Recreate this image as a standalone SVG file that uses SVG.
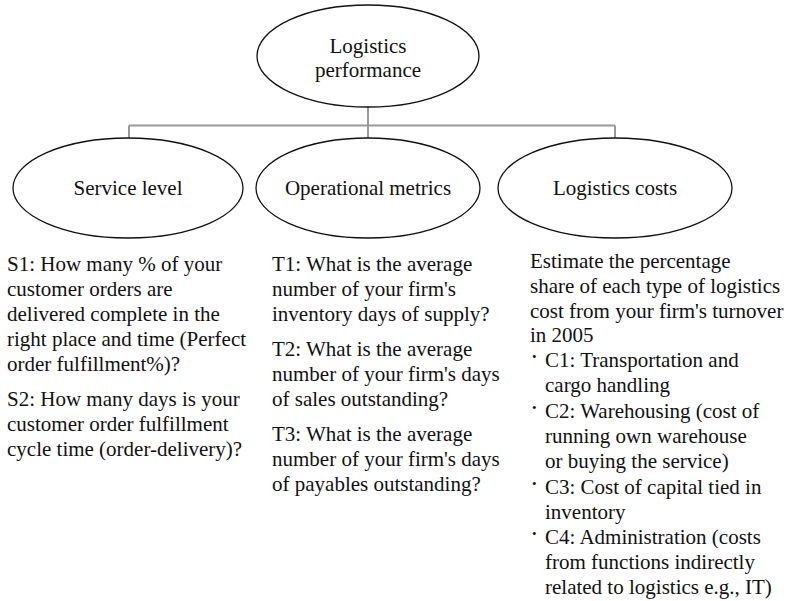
<svg xmlns="http://www.w3.org/2000/svg" width="789" height="601" viewBox="0 0 789 601">
  <style>
    .node ellipse { fill: #ffffff; stroke: #111111; stroke-width: 1.3; }
    .lbl { font-family: "Liberation Serif", "Times New Roman", serif; font-size: 21px; fill: #111111; }
    .mid { text-anchor: middle; }
    .conn { fill: none; stroke: #9a9a9a; stroke-width: 2; }
    .bul { font-family: "Liberation Serif", "Times New Roman", serif; font-size: 13px; fill: #111111; }
  </style>
  <rect width="789" height="601" fill="#ffffff"/>

  <!-- tree connectors -->
  <g id="connectors">
    <path class="conn" d="M368 107 V125.5"/>
    <path class="conn" d="M129 125.5 H615"/>
    <path class="conn" d="M129 125.5 V138"/>
    <path class="conn" d="M368 125.5 V138"/>
    <path class="conn" d="M615 125.5 V138"/>
  </g>

  <g id="root" class="node">
    <ellipse cx="368" cy="56" rx="111" ry="51"/>
    <text class="lbl mid" x="368" y="53">Logistics</text>
    <text class="lbl mid" x="368" y="77">performance</text>
  </g>

  <g id="service" class="node">
    <ellipse cx="128" cy="188" rx="115" ry="50"/>
    <text class="lbl mid" x="128" y="195">Service level</text>
  </g>

  <g id="operational" class="node">
    <ellipse cx="368" cy="188" rx="112" ry="50"/>
    <text class="lbl mid" x="368" y="195">Operational metrics</text>
  </g>

  <g id="costs" class="node">
    <ellipse cx="615" cy="188" rx="117" ry="50"/>
    <text class="lbl mid" x="615" y="195">Logistics costs</text>
  </g>

  <!-- service level questions -->
  <g id="service-text" class="lbl">
    <text x="7" y="271">S1: How many % of your</text>
    <text x="7" y="296">customer orders are</text>
    <text x="7" y="321">delivered complete in the</text>
    <text x="7" y="346">right place and time (Perfect</text>
    <text x="7" y="371">order fulfillment%)?</text>
    <text x="7" y="406">S2: How many days is your</text>
    <text x="7" y="431">customer order fulfillment</text>
    <text x="7" y="456">cycle time (order-delivery)?</text>
  </g>

  <!-- operational metrics questions -->
  <g id="operational-text" class="lbl">
    <text x="272" y="271">T1: What is the average</text>
    <text x="272" y="296">number of your firm's</text>
    <text x="272" y="321">inventory days of supply?</text>
    <text x="272" y="356">T2: What is the average</text>
    <text x="272" y="381">number of your firm's days</text>
    <text x="272" y="406">of sales outstanding?</text>
    <text x="272" y="441">T3: What is the average</text>
    <text x="272" y="466">number of your firm's days</text>
    <text x="272" y="491">of payables outstanding?</text>
  </g>

  <!-- logistics cost items -->
  <g id="costs-text" class="lbl">
    <text x="530" y="268">Estimate the percentage</text>
    <text x="530" y="293">share of each type of logistics</text>
    <text x="530" y="318">cost from your firm's turnover</text>
    <text x="530" y="342">in 2005</text>
    <text x="545" y="367">C1: Transportation and</text>
    <text x="545" y="392">cargo handling</text>
    <text x="545" y="418">C2: Warehousing (cost of</text>
    <text x="545" y="443">running own warehouse</text>
    <text x="545" y="468">or buying the service)</text>
    <text x="545" y="494">C3: Cost of capital tied in</text>
    <text x="545" y="519">inventory</text>
    <text x="545" y="544">C4: Administration (costs</text>
    <text x="545" y="569">from functions indirectly</text>
    <text x="545" y="594">related to logistics e.g., IT)</text>
  </g>
  <g id="bullets" class="bul">
    <text x="532" y="361">•</text>
    <text x="532" y="412">•</text>
    <text x="532" y="488">•</text>
    <text x="532" y="538">•</text>
  </g>
</svg>
